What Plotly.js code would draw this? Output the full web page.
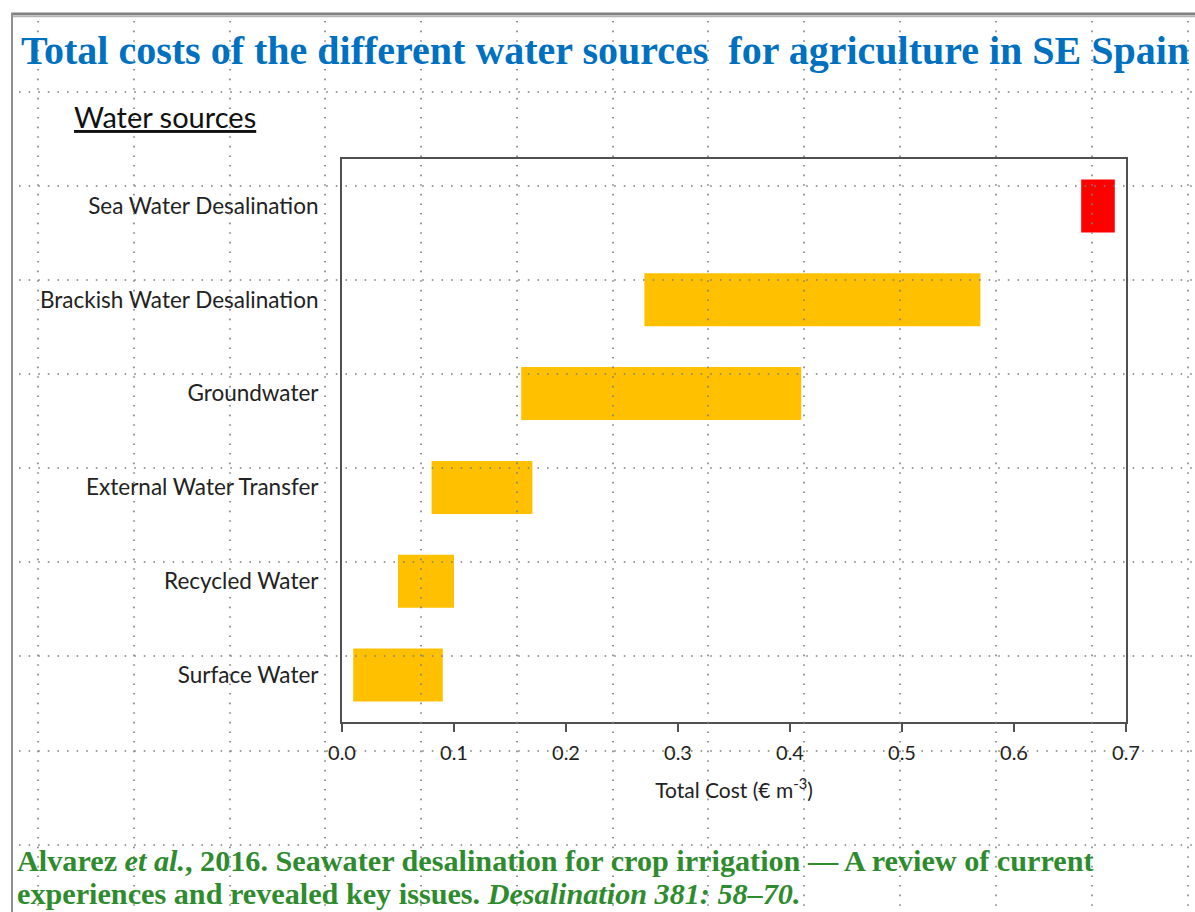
<!DOCTYPE html>
<html>
<head>
<meta charset="utf-8">
<script src="https://cdn.plot.ly/plotly-3.0.1.min.js"></script>
<style>html,body{margin:0;padding:0;background:#fff;}#chart{width:1195px;height:912px;}</style>
</head>
<body>
<div id="chart"></div>
<script>
// ---- data ----
const sources = ["Surface Water", "Recycled Water", "External Water Transfer", "Groundwater", "Brackish Water Desalination", "Sea Water Desalination"];
const lowCost  = [0.01, 0.05, 0.08, 0.16, 0.27, 0.66];
const highCost = [0.09, 0.10, 0.17, 0.41, 0.57, 0.69];
const barColors = ["#FFC000", "#FFC000", "#FFC000", "#FFC000", "#FFC000", "#FF0000"];
const xTicks = [0, 0.1, 0.2, 0.3, 0.4, 0.5, 0.6, 0.7];
const xTickText = ["0.0", "0.1", "0.2", "0.3", "0.4", "0.5", "0.6", "0.7"];

// ---- page geometry (pixels) ----
const W = 1195, H = 912;
const M = {l: 342, r: 69, t: 159, b: 190};
const PW = W - M.l - M.r, PH = H - M.t - M.b;
const px = v => (v - M.l) / PW;
const py = v => (H - M.b - v) / PH;

const spans = highCost.map((h, i) => +(h - lowCost[i]).toFixed(4));

const trace = {
  type: "bar",
  orientation: "h",
  y: sources,
  x: spans,
  base: lowCost,
  width: 0.565,
  marker: {color: barColors, line: {width: 0}},
  hoverinfo: "skip"
};

// slide dotted grid
const gridX = [38, 134, 230, 325, 421, 517, 613, 708, 804, 900, 996, 1092, 1188];
const gridY = [92, 186, 280, 374, 468, 562, 656, 751, 845];
const dotLine = {color: "#7f7f7f", width: 1.6, dash: "1.6px,8px"};
const shapes = [];
gridX.forEach(g => shapes.push({type: "line", xref: "paper", yref: "paper", layer: "above",
  x0: px(g), x1: px(g), y0: py(21), y1: py(912), line: dotLine}));
gridY.forEach(g => shapes.push({type: "line", xref: "paper", yref: "paper", layer: "above",
  x0: px(19), x1: px(1195), y0: py(g), y1: py(g), line: dotLine}));
// slide frame
shapes.push({type: "line", xref: "paper", yref: "paper", layer: "above",
  x0: px(11), x1: px(1195), y0: py(13.8), y1: py(13.8), line: {color: "#808080", width: 2.5}});
shapes.push({type: "line", xref: "paper", yref: "paper", layer: "above",
  x0: px(11), x1: px(1195), y0: py(16.2), y1: py(16.2), line: {color: "#b4b4b4", width: 2}});
shapes.push({type: "line", xref: "paper", yref: "paper", layer: "above",
  x0: px(12), x1: px(12), y0: py(13), y1: py(912), line: {color: "#909090", width: 2}});

const annotations = [
  {text: "<b>Total costs of the different water sources  for agriculture in SE Spain</b>",
   xref: "paper", yref: "paper", x: px(19), y: py(50), xanchor: "left", yanchor: "middle",
   showarrow: false, font: {family: "Liberation Serif, Times New Roman, serif", size: 40, color: "#0070C0"}},
  {text: "<u>Water sources</u>",
   xref: "paper", yref: "paper", x: px(72), y: py(117), xanchor: "left", yanchor: "middle",
   showarrow: false, font: {family: "Lato, sans-serif", size: 29, color: "#111"}},
  {text: "<b>Alvarez <i>et al.</i>, 2016. Seawater desalination for crop irrigation — A review of current</b>",
   xref: "paper", yref: "paper", x: px(15), y: py(861), xanchor: "left", yanchor: "middle",
   showarrow: false, font: {family: "Liberation Serif, Times New Roman, serif", size: 30.2, color: "#2E8B2E"}},
  {text: "<b>experiences and revealed key issues. <i>Desalination 381: 58–70.</i></b>",
   xref: "paper", yref: "paper", x: px(15), y: py(894), xanchor: "left", yanchor: "middle",
   showarrow: false, font: {family: "Liberation Serif, Times New Roman, serif", size: 30.2, color: "#2E8B2E"}}
];

const layout = {
  width: W, height: H,
  margin: M,
  paper_bgcolor: "#ffffff",
  plot_bgcolor: "#ffffff",
  showlegend: false,
  xaxis: {
    range: [0, 0.7], tickvals: xTicks, ticktext: xTickText,
    ticks: "outside", ticklen: 8, tickwidth: 2, tickcolor: "#505050",
    showline: true, linecolor: "#505050", linewidth: 2, mirror: true,
    showgrid: false, zeroline: false, ticklabelstandoff: 4,
    tickfont: {family: "Lato, sans-serif", size: 20, color: "#222"},
    title: {text: "Total Cost (€ m<sup>-3</sup>)", standoff: 20,
            font: {family: "Lato, sans-serif", size: 21, color: "#222"}},
    fixedrange: true
  },
  yaxis: {
    type: "category", categoryorder: "array", categoryarray: sources,
    range: [-0.5, 5.5],
    ticks: "", showline: true, linecolor: "#505050", linewidth: 2, mirror: true,
    showgrid: false, zeroline: false, ticklabelstandoff: 17,
    tickfont: {family: "Lato, sans-serif", size: 22.5, color: "#222"},
    fixedrange: true
  },
  shapes: shapes,
  annotations: annotations
};

Plotly.newPlot("chart", [trace], layout, {displayModeBar: false, staticPlot: true});
</script>
</body>
</html>
